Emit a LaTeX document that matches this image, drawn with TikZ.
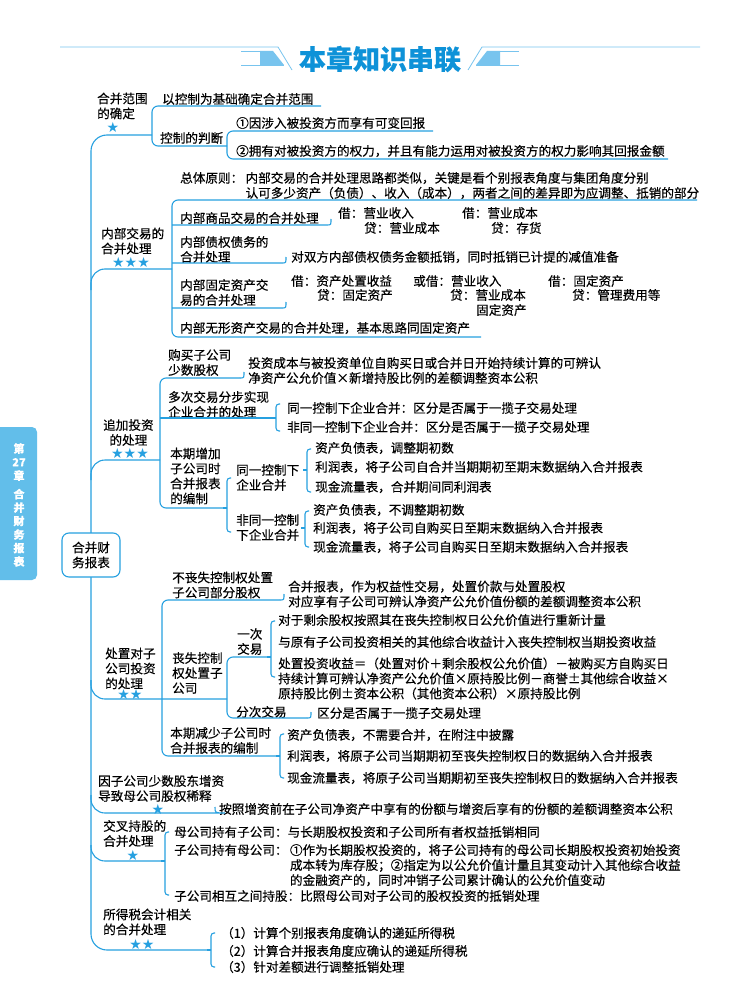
\documentclass[tikz,border=0pt]{standalone}
\usepackage{fontspec}
\setmainfont{Noto Sans CJK SC}[FakeBold=0.3]
\newfontfamily\starfont{DejaVu Sans}
\definecolor{lineblue}{RGB}{38,160,224}
\definecolor{titleblue}{RGB}{14,146,216}
\definecolor{headblue}{RGB}{120,196,238}
\definecolor{tabblue}{RGB}{98,190,234}

% small curly bracket: x, top y, bottom y, tip y
\newcommand{\sidebrace}[4]{%
  \draw[ln, rounded corners=3pt] ({#1+4},#2) -- (#1,#2) -- (#1,#3) -- ({#1+4},#3);
  \draw[ln] ({#1-4},#4) -- (#1,#4);
}

\begin{document}
\begin{tikzpicture}[x=1pt, y=-1pt,
    ln/.style={draw=lineblue, line width=1.1pt},
    txt/.style={anchor=west, inner sep=1pt, align=left, font=\fontsize{12.6}{15}\selectfont},
    stars/.style={inner sep=0pt, text=lineblue, font=\starfont\fontsize{14}{14}\selectfont},
    rootbox/.style={draw=lineblue, line width=1.1pt, rounded corners=7pt, fill=white,
      minimum width=58pt, minimum height=44pt, align=center, font=\fontsize{12.6}{15}\selectfont}]
    \fill[white] (0,0) rectangle (750,1000);
    \useasboundingbox (0,0) rectangle (750,1000);

    % header
    \draw[headblue, line width=0.8pt] (60,47) -- (278,47) -- (292,70);
    \draw[headblue, line width=0.8pt] (700,47) -- (482,47) -- (468,70);
    \fill[headblue] (260,51) -- (273,51) -- (284,65) -- (260,65) -- cycle;
    \fill[headblue] (500,51) -- (487,51) -- (476,65) -- (500,65) -- cycle;
    \draw[headblue, line width=0.6pt] (241,65) -- (284,65) (241,51) -- (260,51);
    \draw[headblue, line width=0.6pt] (476,65) -- (519,65) (500,51) -- (519,51);
    \node[text=titleblue, font=\bfseries\fontsize{27}{27}\selectfont] (title) at (380,59) {本章知识串联};

    % side tab
    \fill[tabblue, rounded corners=5pt] (-8,427) rectangle (37,580);
    \node[text=white, align=center, font=\bfseries\fontsize{11}{13.5}\selectfont] (tab) at (19,505)
      {第\\27\\章\\[5pt]合\\并\\财\\务\\报\\表};

    % spine and root
    \draw[ln, rounded corners=16pt] (152,135) -- (91,135) -- (91,950) -- (211,950);
    \node[rootbox] (root) at (91,555) {合并财\\务报表};

    % 1 scope of consolidation
    \node[txt] (s1) at (96,106) {合并范围\\的确定};
    \node[stars] (s1s) at (113,127) {★};
    \node[txt] (a1) at (161,99) {以控制为基础确定合并范围};
    \node[txt] (a2) at (159,138) {控制的判断};
    \node[txt] (a21) at (235,123) {①因涉入被投资方而享有可变回报};
    \node[txt] (a22) at (235,151) {②拥有对被投资方的权力，并且有能力运用对被投资方的权力影响其回报金额};
    \draw[ln, rounded corners=6pt] (321,106) -- (152,106) -- (152,146) -- (227,146);
    \draw[ln, rounded corners=6pt] (433,131) -- (227,131) -- (227,159) -- (668,159);

    % 2 internal transactions
    \node[txt] (s2) at (100,241) {内部交易的\\合并处理};
    \node[stars] (s2s) at (131,262) {★★★};
    \node[txt] (b0) at (179,178) {总体原则：};
    \node[txt] (b0a) at (b0.east) {内部交易的合并处理思路都类似，关键是看个别报表角度与集团角度分别};
    \node[txt] (b0b) at ([yshift=-15pt]b0a.west) {认可多少资产（负债）、收入（成本），两者之间的差异即为应调整、抵销的部分};
    \node[txt] (b1) at (179,218) {内部商品交易的合并处理};
    \node[txt] (b1a) at (337,213) {借：营业收入};
    \node[txt] (b1b) at (363,228) {贷：营业成本};
    \node[txt] (b1c) at (461,213) {借：营业成本};
    \node[txt] (b1d) at (490,228) {贷：存货};
    \node[txt] (b2) at (179,249.5) {内部债权债务的\\合并处理};
    \node[txt] (b2a) at (290,257) {对双方内部债权债务金额抵销，同时抵销已计提的减值准备};
    \node[txt] (b3) at (179,292.5) {内部固定资产交\\易的合并处理};
    \node[txt] (b3a) at (290,281) {借：资产处置收益};
    \node[txt] (b3b) at (316,295) {贷：固定资产};
    \node[txt] (b3c) at (412,281) {或借：营业收入};
    \node[txt] (b3d) at (449,295) {贷：营业成本};
    \node[txt] (b3e) at (475,310) {固定资产};
    \node[txt] (b3f) at (547,281) {借：固定资产};
    \node[txt] (b3g) at (571,295) {贷：管理费用等};
    \node[txt] (b4) at (179,328) {内部无形资产交易的合并处理，基本思路同固定资产};
    \draw[ln, rounded corners=6pt] (697,200) -- (172,200) -- (172,337) -- (481,337);
    \draw[ln] (172,225) -- (327,225) .. controls (331,225) .. (331,219);
    \draw[ln] (172,263) -- (282,263) .. controls (286,263) .. (286,257);
    \draw[ln] (172,308) -- (282,308) .. controls (286,308) .. (286,302);
    \draw[ln, rounded corners=14pt] (91,290) -- (91,269) -- (172,269);

    % 3 additional investment
    \node[txt, align=center] (s3) at (102,432.5) {追加投资\\的处理};
    \node[stars] (s3s) at (130,453) {★★★};
    \node[txt] (c1) at (167,362.5) {购买子公司\\少数股权};
    \node[txt] (c1a) at (247,370.5) {投资成本与被投资单位自购买日或合并日开始持续计算的可辨认\\净资产公允价值×新增持股比例的差额调整资本公积};
    \node[txt] (c2) at (167,404.5) {多次交易分步实现\\企业合并的处理};
    \node[txt] (c2a) at (286,408) {同一控制下企业合并：区分是否属于一揽子交易处理};
    \node[txt] (c2b) at (286,427) {非同一控制下企业合并：区分是否属于一揽子交易处理};
    \node[txt] (c3) at (169,476) {本期增加\\子公司时\\合并报表\\的编制};
    \node[txt] (c31) at (235,477.5) {同一控制下\\企业合并};
    \node[txt] (c311) at (314,448) {资产负债表，调整期初数};
    \node[txt] (c312) at (314,467) {利润表，将子公司自合并当期期初至期末数据纳入合并报表};
    \node[txt] (c313) at (314,487) {现金流量表，合并期间同利润表};
    \node[txt] (c32) at (235,527.5) {非同一控制\\下企业合并};
    \node[txt] (c321) at (312,510) {资产负债表，不调整期初数};
    \node[txt] (c322) at (312,528) {利润表，将子公司自购买日至期末数据纳入合并报表};
    \node[txt] (c323) at (312,547) {现金流量表，将子公司自购买日至期末数据纳入合并报表};
    \draw[ln, rounded corners=6pt] (240,378) -- (160,378) -- (160,508) -- (227,508);
    \draw[ln] (240,378) .. controls (244,378) .. (244,372);
    \draw[ln] (160,418) -- (276,418);
    \draw[ln, rounded corners=14pt] (91,480) -- (91,460) -- (160,460);
    \sidebrace{276}{404}{431}{418}
    \sidebrace{227}{478}{532}{508}
    \sidebrace{307}{449}{492}{470}
    \sidebrace{305}{511}{547}{528}

    % 4 disposal of subsidiary
    \node[txt] (s4) at (104,668.5) {处置对子\\公司投资\\的处理};
    \node[stars] (s4s) at (130,694) {★★};
    \node[txt] (d1) at (171,585) {不丧失控制权处置\\子公司部分股权};
    \node[txt] (d1a) at (287,594) {合并报表，作为权益性交易，处置价款与处置股权\\对应享有子公司可辨认净资产公允价值份额的差额调整资本公积};
    \node[txt] (d2) at (171,673) {丧失控制\\权处置子\\公司};
    \node[txt] (d21) at (236,641.5) {一次\\交易};
    \node[txt] (d211) at (277,620) {对于剩余股权按照其在丧失控制权日公允价值进行重新计量};
    \node[txt] (d212) at (277,642) {与原有子公司投资相关的其他综合收益计入丧失控制权当期投资收益};
    \node[txt] (d213) at (277,678.5) {处置投资收益＝（处置对价＋剩余股权公允价值）－被购买方自购买日\\持续计算可辨认净资产公允价值×原持股比例－商誉±其他综合收益×\\原持股比例±资本公积（其他资本公积）×原持股比例};
    \node[txt] (d22) at (235,712) {分次交易};
    \node[txt] (d22a) at (316,713) {区分是否属于一揽子交易处理};
    \node[txt] (d3) at (169,740.5) {本期减少子公司时\\合并报表的编制};
    \node[txt] (d31) at (286,735) {资产负债表，不需要合并，在附注中披露};
    \node[txt] (d32) at (286,756) {利润表，将原子公司当期期初至丧失控制权日的数据纳入合并报表};
    \node[txt] (d33) at (286,778) {现金流量表，将原子公司当期期初至丧失控制权日的数据纳入合并报表};
    \draw[ln, rounded corners=6pt] (280,600) -- (162,600) -- (162,756) -- (280,756);
    \draw[ln] (280,600) .. controls (284,600) .. (284,594);
    \draw[ln, rounded corners=14pt] (91,680) -- (91,699) -- (227,699);
    \draw[ln, rounded corners=6pt] (270,657) -- (227,657) -- (227,718) -- (307,718);
    \draw[ln] (307,718) .. controls (311,718) .. (311,712);
    \sidebrace{271}{621}{677}{657}
    \sidebrace{280}{734}{778}{756}

    % 5 minority capital injection
    \node[txt] (s5) at (97,788.5) {因子公司少数股东增资\\导致母公司股权稀释};
    \node[stars] (s5s) at (158,809) {★};
    \node[txt] (e1) at (218,809) {按照增资前在子公司净资产中享有的份额与增资后享有的份额的差额调整资本公积};
    \draw[ln, rounded corners=14pt] (91,795) -- (91,813) -- (211,813) .. controls (215,813) .. (215,807);

    % 6 cross holdings
    \node[txt] (s6) at (102,833.5) {交叉持股的\\合并处理};
    \node[stars] (s6s) at (133,855) {★};
    \node[txt] (f1) at (173,832) {母公司持有子公司：与长期股权投资和子公司所有者权益抵销相同};
    \node[txt] (f2) at (173,850) {子公司持有母公司：};
    \node[txt, anchor=north west] (f2a) at (f2.north east) {①作为长期股权投资的，将子公司持有的母公司长期股权投资初始投资\\成本转为库存股；②指定为以公允价值计量且其变动计入其他综合收益\\的金融资产的，同时冲销子公司累计确认的公允价值变动};
    \node[txt] (f3) at (173,896) {子公司相互之间持股：比照母公司对子公司的股权投资的抵销处理};
    \draw[ln, rounded corners=14pt] (91,845) -- (91,861) -- (165,861);
    \sidebrace{165}{832}{895}{861}

    % 7 income tax
    \node[txt] (s7) at (102,922) {所得税会计相关\\的合并处理};
    \node[stars] (s7s) at (142,944) {★★};
    \node[txt] (g1) at (220,933) {（1）计算个别报表角度确认的递延所得税};
    \node[txt] (g2) at (220,951) {（2）计算合并报表角度应确认的递延所得税};
    \node[txt] (g3) at (220,967) {（3）针对差额进行调整抵销处理};
    \sidebrace{211}{933}{967}{950}
\end{tikzpicture}
\end{document}
